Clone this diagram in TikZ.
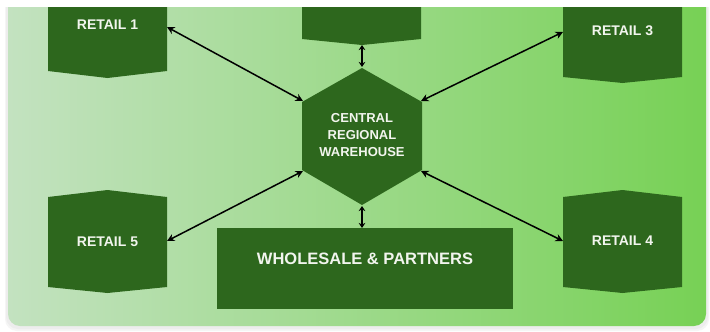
\documentclass[tikz,border=0pt]{standalone}
\usepackage{fontspec}
\setmainfont{Liberation Sans}
\usetikzlibrary{arrows.meta,shadings}
\definecolor{boxgreen}{HTML}{2D671D}
\definecolor{bgleft}{HTML}{C3E2C0}
\definecolor{bgright}{HTML}{77D155}
\definecolor{txt}{HTML}{F2F5EE}
\tikzset{
  boxfill/.style={fill=boxgreen},
  lbl/.style={text=txt,font=\bfseries\fontsize{13}{17}\selectfont,align=center,inner sep=0pt},
  rlbl/.style={text=txt,font=\bfseries\fontsize{14}{17}\selectfont,inner sep=0pt},
  biglbl/.style={text=txt,font=\bfseries\fontsize{16.5}{18}\selectfont,inner sep=0pt},
  link/.style={black,line width=1.5pt,{Stealth[length=7.5pt,width=7.5pt]}-{Stealth[length=7.5pt,width=7.5pt]}},
  shortlink/.style={black,line width=1.5pt,{Stealth[length=5pt,width=6.5pt]}-{Stealth[length=5pt,width=6.5pt]}}
}
\begin{document}
\begin{tikzpicture}[x=1pt,y=-1pt]
\useasboundingbox (0,0) rectangle (710,332);
\fill[white] (0,0) rectangle (710,332);
\begin{scope}
\clip (0,7) rectangle (710,332);
% shadow
\fill[black!4,rounded corners=12pt] (5,-20) rectangle (709,331);
\fill[black!7,rounded corners=12pt] (6,-20) rectangle (708,329);
\shade[left color=bgleft,right color=bgright,rounded corners=12pt] (8,-20) rectangle (706,326);
% Retail 1
\fill[boxfill] (48,-10) -- (167,-10) -- (167,71) -- (107.5,78) -- (48,71) -- cycle;
% top center
\fill[boxfill] (302,-10) -- (421,-10) -- (421,39) -- (362,45) -- (302,39) -- cycle;
% Retail 3
\fill[boxfill] (563,-10) -- (682,-10) -- (682,77) -- (622.5,83) -- (563,77) -- cycle;
\end{scope}
% Retail 5
\fill[boxfill] (48,197) -- (107.5,190) -- (167,197) -- (167,287) -- (107.5,293) -- (48,287) -- cycle;
% Retail 4
\fill[boxfill] (563,197) -- (622.5,190) -- (682,197) -- (682,287) -- (622.5,293) -- (563,287) -- cycle;
% hexagon
\fill[boxfill] (362,68) -- (422,102) -- (422,170) -- (362,205) -- (302,170) -- (302,102) -- cycle;
% wholesale
\fill[boxfill] (217,228) rectangle (513,309);

% labels
\node[rlbl] (r1) at (107.5,25) {RETAIL 1};
\node[rlbl] (r3) at (622.5,31) {RETAIL 3};
\node[rlbl] (r5) at (107.5,242) {RETAIL 5};
\node[rlbl] (r4) at (622.5,241) {RETAIL 4};
\node[lbl] (hub) at (362,135) {CENTRAL\\REGIONAL\\WAREHOUSE};
\node[biglbl] (ws) at (365,259) {WHOLESALE \& PARTNERS};

% anchor points
\coordinate (r1e) at (167,27);
\coordinate (r3w) at (563,32);
\coordinate (r5e) at (167,241);
\coordinate (r4w) at (563,241);
\coordinate (hubul) at (303,101);
\coordinate (hubur) at (421,101);
\coordinate (hubll) at (303,171);
\coordinate (hublr) at (421,171);
\coordinate (hubt) at (362,67);
\coordinate (hubb) at (362,206);
\coordinate (topb) at (362,45);
\coordinate (wst) at (362,228);

\draw[link] (r1e) -- (hubul);
\draw[link] (r3w) -- (hubur);
\draw[link] (r5e) -- (hubll);
\draw[link] (r4w) -- (hublr);
\draw[shortlink] (topb) -- (hubt);
\draw[shortlink] (hubb) -- (wst);
\end{tikzpicture}
\end{document}
